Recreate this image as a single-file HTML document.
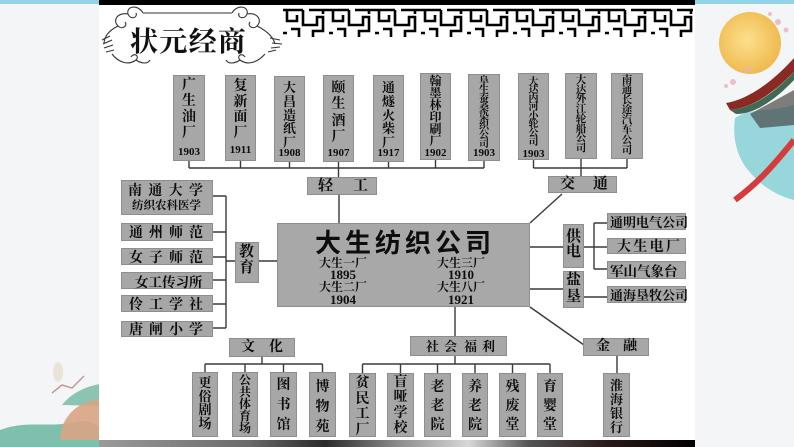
<!DOCTYPE html>
<html><head><meta charset="utf-8">
<style>
*{margin:0;padding:0}
body{width:794px;height:447px;overflow:hidden;position:relative;background:#f4f5f6;font-family:"Liberation Serif","Noto Serif CJK SC",serif}
.b{position:absolute;box-sizing:border-box;background:#a7a7a7;border:1px solid #8e8e8e;color:#0d0d0d;font-family:"Liberation Serif","Noto Serif CJK SC",serif;font-weight:700}
.h{display:flex;justify-content:space-between;align-items:center}
.cs{position:absolute;left:0;right:0;text-align:center}
.yr{position:absolute;left:0;right:0;text-align:center;font-family:"Liberation Serif",serif;font-size:11px;line-height:11px;font-weight:700}
.a{position:absolute;line-height:1}
</style></head><body>

<!-- background decorations -->
<div style="position:absolute;left:0;top:0;width:794px;height:4px;background:#93d3e6"></div>
<svg style="position:absolute;left:0;top:0" width="794" height="447">
 <defs>
  <radialGradient id="moon" cx="45%" cy="45%" r="60%">
   <stop offset="0" stop-color="#fbe08c"/><stop offset="1" stop-color="#efb74a"/>
  </radialGradient>
  <pattern id="lat" x="283" y="4" width="46" height="36" patternUnits="userSpaceOnUse">
   <path d="M0 6 H20 M26 6 H46 M4 6 V17 H14 V11 M20 6 V21 H34 V13 H40 V27 H30 V33 M8 25 H16 V33 M0 29 H4 M40 6 V10" stroke="#000" stroke-width="2.6" fill="none"/>
  </pattern>
 </defs>
 <!-- right image -->
 <circle cx="750" cy="43" r="31" fill="url(#moon)"/>
 <g fill="#e7b3c0" opacity="0.8"><circle cx="778" cy="22" r="3"/><circle cx="786" cy="30" r="2.5"/><circle cx="770" cy="14" r="2"/><circle cx="733" cy="82" r="3"/><circle cx="726" cy="86" r="2"/><circle cx="748" cy="70" r="3"/></g>
 <path d="M735 118 C750 108 770 112 794 105 L794 200 C775 195 760 185 748 170 C738 158 732 140 735 118 Z" fill="#7fd0d6" opacity="0.8"/>
 <path d="M726 103 C745 100 770 85 794 58 L794 72 C772 94 752 108 730 110 Z" fill="#8a2a25"/>
 <path d="M730 110 C752 108 772 95 794 72 L794 80 C775 100 755 114 736 114 Z" fill="#3f6b55"/>
 <path d="M750 114 L794 90 L794 125 L760 128 Z" fill="#4a4a48" opacity="0.7"/>
 <path d="M735 200 C755 185 770 170 794 140" stroke="#d63a3a" stroke-width="6" fill="none"/>
 <!-- left bottom decorations -->
 <path d="M62 405 C72 392 88 386 100 384 L100 406 Z" fill="#8cc4b2"/>
 <path d="M0 430 C25 420 50 428 75 422 C88 419 95 425 100 428 L100 447 L0 447 Z" fill="#7fbfae"/>
 <path d="M60 440 A40 40 0 0 1 100 400 L100 440 Z" fill="#d9a483" opacity="0.9"/>
 <path d="M52 393 L62 385 L72 388 L84 376" stroke="#c79a9a" stroke-width="1.5" fill="none"/>
 <ellipse cx="58" cy="372" rx="5" ry="10" fill="#e6e0d0" opacity="0.8"/>
 <!-- diagram panel -->
 <rect x="99" y="0" width="596" height="440" fill="#fff"/>
 <rect x="99" y="0" width="596" height="5" fill="#000"/>
 <rect x="283" y="4" width="410" height="36" fill="url(#lat)"/>
 <defs><linearGradient id="band" x1="0" x2="1"><stop offset="0" stop-color="#9a9a9a"/><stop offset="0.25" stop-color="#6a6a6a"/><stop offset="0.38" stop-color="#2a2a2a"/><stop offset="0.5" stop-color="#8a8a8a"/><stop offset="0.62" stop-color="#d8d8d8"/><stop offset="0.72" stop-color="#555"/><stop offset="0.85" stop-color="#2a1a1a"/><stop offset="1" stop-color="#000"/></linearGradient></defs>
 <rect x="99" y="440" width="596" height="7" fill="url(#band)"/>
 <!-- title ornaments -->
 <g stroke="#333" stroke-width="1.1" fill="none">
  <line x1="143" y1="13" x2="232" y2="13"/>
  <path d="M143 13 C138 4 126 6 128 14 C130 20 138 18 136 13"/>
  <path d="M128 14 C118 12 112 20 118 26 C122 30 128 26 125 22"/>
  <path d="M118 26 C110 30 104 36 104 44"/>
  <path d="M102 40 l8 -4 M103 44 l9 -4 M104 48 l9 -3 M106 52 l8 -2"/>
  <path d="M112 54 C118 62 128 66 136 60 C140 56 134 52 131 57"/>
  <path d="M136 60 C142 64 148 64 150 60"/>
  <path d="M232 13 C237 4 249 6 247 14 C245 20 237 18 239 13"/>
  <path d="M247 14 C257 12 263 20 257 26 C253 30 247 26 250 22"/>
  <path d="M257 26 C265 30 273 36 275 44"/>
  <path d="M270 38 l10 2 M272 43 l10 1 M271 48 l9 -1 M268 52 l8 -2"/>
  <path d="M265 54 C258 62 248 66 240 60 C236 56 242 52 245 57"/>
  <path d="M240 60 C234 64 228 64 226 60"/>
 </g>
 <!-- connectors -->
 <g stroke="#3a3a3a" stroke-width="1.4" fill="none">
  <path d="M189 161V168 M240.5 160V168 M289.5 162V168 M338.5 162V168 M388.5 162V168 M435.5 160V168 M484 161V168 M189 168H484 M338.5 168V177 M339 195V223"/>
  <path d="M533.5 160V168 M581 159V168 M627 159V168 M533.5 168H627 M581 168V176 M562 194L530 223"/>
  <path d="M259 261H277 M226 261H235 M226 196V328 M213 196H226 M213 232H226 M213 257H226 M213 280H226 M213 304H226 M213 328H226"/>
  <path d="M530 247H563 M530 289H563 M584 247H607 M594 223V269 M594 223H607 M594 269H607 M584 297H607"/>
  <path d="M530 307L584 345 M617 356V373"/>
  <path d="M455 307V336 M455 356V364 M362.5 364H550 M362.5 364V373 M400.5 364V373 M437.5 364V373 M475 364V373 M512.5 364V373 M550 364V373"/>
  <path d="M262 357V364 M205 364H322.5 M205 364V372 M245 364V372 M283.5 364V372 M322.5 364V372"/>
 </g>
</svg>

<div class="a" style="left:130px;top:26px;font-size:28px;letter-spacing:1.3px;font-family:'Noto Serif CJK SC',serif;font-weight:700;color:#111">状元经商</div>

<!-- top row -->
<div class="b" style="left:173px;top:75px;width:32px;height:86px"><div class="cs" style="top:2px;font-size:14px;line-height:16px">广<br>生<br>油<br>厂</div><div class="yr" style="top:71px">1903</div></div>
<div class="b" style="left:225px;top:75px;width:31px;height:86px"><div class="cs" style="top:3px;font-size:14px;line-height:15.5px">复<br>新<br>面<br>厂</div><div class="yr" style="top:69px">1911</div></div>
<div class="b" style="left:274px;top:76px;width:31px;height:86px"><div class="cs" style="top:4px;font-size:13px;line-height:13.8px">大<br>昌<br>造<br>纸<br>厂</div><div class="yr" style="top:71px">1908</div></div>
<div class="b" style="left:323px;top:75px;width:31px;height:87px"><div class="cs" style="top:5px;font-size:14px;line-height:16.3px">颐<br>生<br>酒<br>厂</div><div class="yr" style="top:72px">1907</div></div>
<div class="b" style="left:373px;top:75px;width:31px;height:87px"><div class="cs" style="top:5px;font-size:13px;line-height:13.8px">通<br>燧<br>火<br>柴<br>厂</div><div class="yr" style="top:72px">1917</div></div>
<div class="b" style="left:420px;top:73px;width:31px;height:87px"><div class="cs" style="top:1px;font-size:12px;line-height:12px">翰<br>墨<br>林<br>印<br>刷<br>厂</div><div class="yr" style="top:74px">1902</div></div>
<div class="b" style="left:468px;top:74px;width:32px;height:87px"><div class="cs" style="top:1.5px;font-size:10px;line-height:9px">阜<br>生<br>蚕<br>桑<br>染<br>织<br>公<br>司</div><div class="yr" style="top:73px">1903</div></div>
<div class="b" style="left:518px;top:73px;width:31px;height:87px"><div class="cs" style="top:4.5px;font-size:10px;line-height:8.6px">大<br>达<br>内<br>河<br>小<br>轮<br>公<br>司</div><div class="yr" style="top:75px">1903</div></div>
<div class="b" style="left:565px;top:73px;width:32px;height:86px"><div class="cs" style="top:2px;font-size:10.5px;line-height:9.7px">大<br>达<br>外<br>江<br>轮<br>船<br>公<br>司</div></div>
<div class="b" style="left:611px;top:73px;width:32px;height:86px"><div class="cs" style="top:2px;font-size:10.5px;line-height:10px">南<br>通<br>长<br>途<br>汽<br>车<br>公<br>司</div></div>

<!-- category boxes -->
<div class="b" style="left:307px;top:177px;width:70px;height:18px;font-size:15px"><span class="a" style="left:10px;top:1px">轻</span><span class="a" style="left:45px;top:1px">工</span></div>
<div class="b" style="left:548px;top:176px;width:69px;height:17px;font-size:15px"><span class="a" style="left:11px;top:0px">交</span><span class="a" style="left:44px;top:0px">通</span></div>

<!-- main box -->
<div class="b" style="left:277px;top:223px;width:253px;height:84px;background:#a8a8a8">
 <div class="a" style="left:37px;top:5px;font-size:26px;letter-spacing:4px;font-family:'Noto Sans CJK SC',sans-serif;font-weight:700">大生纺织公司</div>
 <div class="a" style="left:35px;top:33px;width:60px;text-align:center;font-size:12px;line-height:12.2px">大生一厂<br><span style="font-size:13px">1895</span><br>大生二厂<br><span style="font-size:13px">1904</span></div>
 <div class="a" style="left:153px;top:33px;width:60px;text-align:center;font-size:12px;line-height:12.2px">大生三厂<br><span style="font-size:13px">1910</span><br>大生八厂<br><span style="font-size:13px">1921</span></div>
</div>

<!-- left boxes -->
<div class="b" style="left:121px;top:180px;width:92px;height:35px">
 <div class="h a" style="left:6px;right:9px;top:3px;height:15px;font-size:14px"><span>南</span><span>通</span><span>大</span><span>学</span></div>
 <div class="h a" style="left:10px;right:12px;top:19px;height:13px;font-size:11.5px"><span>纺</span><span>织</span><span>农</span><span>科</span><span>医</span><span>学</span></div>
</div>
<div class="b h" style="left:121px;top:223px;width:92px;height:18px;padding:0 9px 0 7px;font-size:14px"><span>通</span><span>州</span><span>师</span><span>范</span></div>
<div class="b h" style="left:121px;top:248px;width:92px;height:17px;padding:0 9px 0 7px;font-size:14px"><span>女</span><span>子</span><span>师</span><span>范</span></div>
<div class="b h" style="left:121px;top:272px;width:92px;height:17px;padding:0 13px 0 13px;font-size:13.5px"><span>女</span><span>工</span><span>传</span><span>习</span><span>所</span></div>
<div class="b h" style="left:121px;top:295px;width:92px;height:17px;padding:0 9px 0 7px;font-size:14px"><span>伶</span><span>工</span><span>学</span><span>社</span></div>
<div class="b h" style="left:121px;top:321px;width:92px;height:16px;padding:0 9px 0 7px;font-size:14px"><span>唐</span><span>闸</span><span>小</span><span>学</span></div>
<div class="b" style="left:235px;top:242px;width:24px;height:41px;font-size:15px"><span class="a" style="left:3px;top:2px">教</span><span class="a" style="left:3px;top:18px">育</span></div>

<!-- right boxes -->
<div class="b" style="left:563px;top:224px;width:21px;height:44px;font-size:15px"><span class="a" style="left:2px;top:5px">供</span><span class="a" style="left:2px;top:20px">电</span></div>
<div class="b" style="left:563px;top:271px;width:21px;height:37px;font-size:15px"><span class="a" style="left:2px;top:1px">盐</span><span class="a" style="left:2px;top:18px">垦</span></div>
<div class="b h" style="left:607px;top:213px;width:79px;height:17px;padding:0 1px 0 2px;font-size:13px"><span>通</span><span>明</span><span>电</span><span>气</span><span>公</span><span>司</span></div>
<div class="b h" style="left:607px;top:238px;width:79px;height:16px;padding:0 5px 0 9px;font-size:14px"><span>大</span><span>生</span><span>电</span><span>厂</span></div>
<div class="b h" style="left:607px;top:261px;width:79px;height:18px;padding:0 8px 0 2px;font-size:13.5px"><span>军</span><span>山</span><span>气</span><span>象</span><span>台</span></div>
<div class="b h" style="left:607px;top:286px;width:79px;height:17px;padding:0 1px 0 2px;font-size:13px"><span>通</span><span>海</span><span>垦</span><span>牧</span><span>公</span><span>司</span></div>
<div class="b" style="left:583px;top:338px;width:66px;height:18px;font-size:14px"><span class="a" style="left:12px;top:1px">金</span><span class="a" style="left:39px;top:1px">融</span></div>
<div class="b" style="left:603px;top:373px;width:27px;height:64px"><div class="cs" style="top:5px;font-size:13px;line-height:14px">淮<br>海<br>银<br>行</div></div>

<!-- bottom -->
<div class="b" style="left:229px;top:338px;width:66px;height:19px;font-size:14px"><span class="a" style="left:11px;top:2px">文</span><span class="a" style="left:39px;top:2px">化</span></div>
<div class="b" style="left:410px;top:336px;width:97px;height:20px;font-size:13px"><span class="a" style="left:15px;top:3px">社</span><span class="a" style="left:33px;top:3px">会</span><span class="a" style="left:53px;top:3px">福</span><span class="a" style="left:71px;top:3px">利</span></div>

<div class="b" style="left:192px;top:372px;width:26px;height:65px"><div class="cs" style="top:3px;font-size:13px;line-height:13.7px">更<br>俗<br>剧<br>场</div></div>
<div class="b" style="left:232px;top:372px;width:26px;height:65px"><div class="cs" style="top:1px;font-size:12px;line-height:12px">公<br>共<br>体<br>育<br>场</div></div>
<div class="b" style="left:270px;top:372px;width:27px;height:65px"><div class="cs" style="top:3px;font-size:14px;line-height:20px">图<br>书<br>馆</div></div>
<div class="b" style="left:309px;top:372px;width:27px;height:65px"><div class="cs" style="top:5px;font-size:14px;line-height:20px">博<br>物<br>苑</div></div>

<div class="b" style="left:349px;top:373px;width:27px;height:64px"><div class="cs" style="top:2px;font-size:14px;line-height:15.5px">贫<br>民<br>工<br>厂</div></div>
<div class="b" style="left:387px;top:373px;width:27px;height:64px"><div class="cs" style="top:1px;font-size:14px;line-height:15.3px">盲<br>哑<br>学<br>校</div></div>
<div class="b" style="left:424px;top:373px;width:27px;height:64px"><div class="cs" style="top:4px;font-size:14px;line-height:19px">老<br>老<br>院</div></div>
<div class="b" style="left:462px;top:373px;width:26px;height:64px"><div class="cs" style="top:4px;font-size:14px;line-height:19px">养<br>老<br>院</div></div>
<div class="b" style="left:499px;top:373px;width:27px;height:64px"><div class="cs" style="top:4px;font-size:14px;line-height:19px">残<br>废<br>堂</div></div>
<div class="b" style="left:537px;top:373px;width:26px;height:64px"><div class="cs" style="top:4px;font-size:14px;line-height:19px">育<br>婴<br>堂</div></div>

</body></html>
